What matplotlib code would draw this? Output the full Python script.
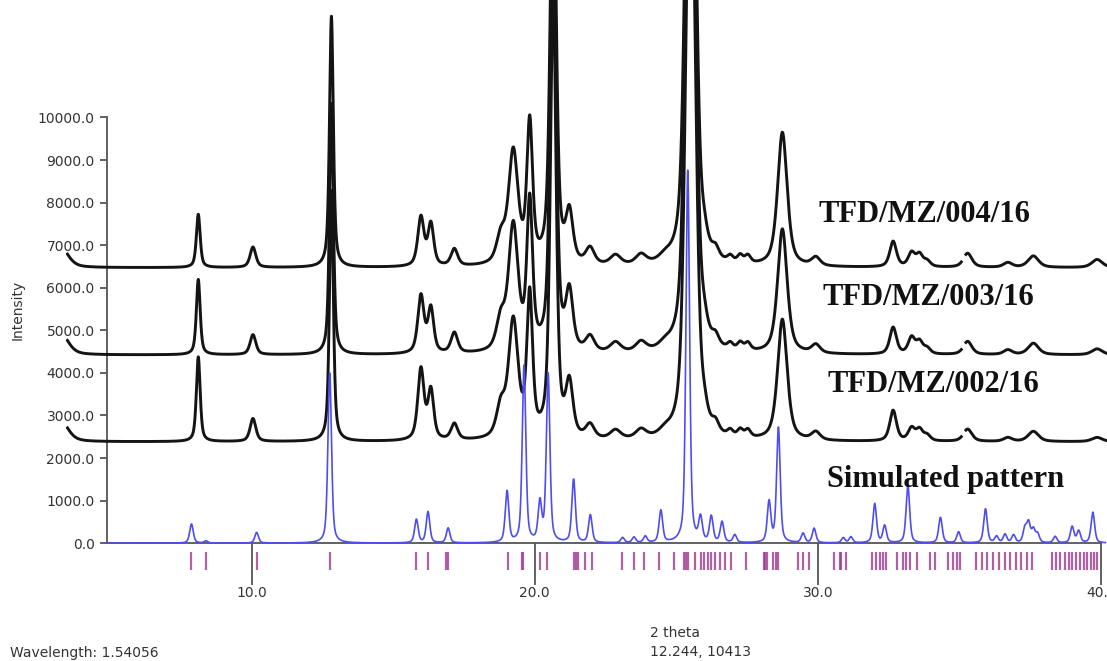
import numpy as np
import matplotlib.pyplot as plt

# --- peak tables for the three measured patterns (2theta, half width, height above baseline) ---
exp_pos = [3.30, 8.12, 10.05, 12.82, 15.98, 16.33, 17.16, 18.80, 19.24, 19.82, 20.65,
           21.22, 21.95, 22.85, 23.75, 24.60, 25.40, 25.60, 25.98, 26.38, 26.90, 27.25,
           27.52, 28.74, 29.92, 32.65, 33.30, 33.58, 33.85, 35.28, 36.70, 37.60, 39.85]
exp_hwhm = [0.30, 0.08, 0.12, 0.08, 0.13, 0.12, 0.14, 0.18, 0.20, 0.12, 0.12,
            0.15, 0.18, 0.22, 0.22, 0.25, 0.15, 0.15, 0.14, 0.14, 0.12, 0.12,
            0.12, 0.20, 0.18, 0.14, 0.14, 0.14, 0.14, 0.18, 0.18, 0.22, 0.22]
h_004 = [450, 1250, 480, 5900, 1150, 980, 400, 600, 2640, 3260, 10500,
         1150, 380, 230, 230, 120, 9000, 8800, 300, 220, 140, 180,
         180, 3150, 200, 600, 320, 280, 130, 330, 110, 270, 190]
h_003 = [480, 1770, 470, 5900, 1350, 1045, 480, 700, 2950, 3450, 10500,
         1340, 350, 230, 230, 120, 9000, 8800, 300, 220, 140, 180,
         180, 2930, 200, 630, 380, 280, 130, 310, 110, 270, 140]
h_002 = [460, 1990, 540, 5900, 1670, 1150, 380, 700, 2750, 3300, 10500,
         1230, 320, 210, 210, 120, 9000, 8800, 290, 220, 140, 180,
         180, 2850, 190, 720, 290, 260, 130, 290, 90, 240, 100]
base_004, base_003, base_002 = 6470, 4420, 2380
gap = (35.06, 35.22)   # missing stretch in the measured scans

# --- simulated pattern (blue) ---
sim_pos = [7.88, 8.39, 10.18, 12.76, 15.82, 16.23, 16.94, 19.02, 19.62, 20.18, 20.47,
           21.37, 21.96, 23.10, 23.50, 23.90, 24.45, 25.40, 25.85, 26.23, 26.61, 27.06,
           28.27, 28.60, 29.47, 29.86, 30.89, 31.16, 32.00, 32.35, 33.17, 34.32, 34.96,
           35.91, 36.30, 36.60, 36.90, 37.30, 37.43, 37.60, 37.75, 38.37, 38.97, 39.20, 39.70]
sim_h = [450, 50, 250, 4000, 550, 730, 350, 1200, 4150, 900, 3950,
         1480, 650, 120, 130, 150, 750, 8750, 550, 600, 480, 180,
         950, 2700, 220, 340, 120, 140, 920, 400, 1350, 600, 260,
         800, 150, 200, 180, 320, 450, 300, 200, 150, 380, 280, 720]

# --- reflection markers under the axis ---
refl = [7.88, 8.39, 10.18, 12.76, 15.82, 16.23, 16.88, 16.94, 19.05, 19.56, 19.60,
        20.20, 20.42, 21.40, 21.46, 21.52, 21.77, 22.02, 23.08, 23.49, 23.87, 24.38,
        24.90, 25.27, 25.33, 25.40, 25.65, 25.85, 25.97, 26.10, 26.22, 26.35, 26.55,
        26.72, 26.92, 27.44, 28.08, 28.14, 28.20, 28.42, 28.50, 28.58, 29.28, 29.47,
        29.67, 30.56, 30.78, 30.82, 31.00, 31.90, 32.05, 32.20, 32.30, 32.40, 32.78,
        33.00, 33.12, 33.24, 33.49, 33.95, 34.13, 34.58, 34.75, 34.90, 35.02, 35.57,
        35.78, 35.98, 36.18, 36.40, 36.60, 36.78, 36.98, 37.18, 37.38, 37.55, 38.25,
        38.40, 38.55, 38.70, 38.85, 38.98, 39.12, 39.25, 39.38, 39.50, 39.62, 39.75,
        39.85]

labels = ["TFD/MZ/004/16", "TFD/MZ/003/16", "TFD/MZ/002/16", "Simulated pattern"]
label_x = [30.00, 30.17, 30.35, 30.30]
label_y = [7540, 5590, 3550, 1315]


def pattern(x, pos, hw, hts, eta):
    """Sum of pseudo-Voigt peaks."""
    y = np.zeros_like(x)
    for c, w, h in zip(pos, hw, hts):
        u = ((x - c) / w) ** 2
        y += h * (eta / (1 + u) + (1 - eta) * np.exp(-np.log(2) * u))
    return y


fig = plt.figure(figsize=(11.07, 6.61), dpi=100)
ax = fig.add_axes([66 / 1107, 54 / 661, 1 - 66 / 1107, 1 - 54 / 661])
ax.set_xlim(3.45, 40.2)
ax.set_ylim(-1500, 12760)

# measured scans
xe = np.arange(3.5, 40.2, 0.004)
for hts, base in [(h_004, base_004), (h_003, base_003), (h_002, base_002)]:
    ye = base + pattern(xe, exp_pos, exp_hwhm, hts, 0.6)
    ye[(xe > gap[0]) & (xe < gap[1])] = np.nan
    ax.plot(xe, ye, color="#141414", lw=2.1, solid_joinstyle="round", zorder=2)

# simulated pattern on top
xs = np.arange(4.85, 40.15, 0.004)
ys = pattern(xs, sim_pos, [0.075] * len(sim_pos), sim_h, 0.5)
ax.plot(xs, ys, color="#4d4df0", lw=1.2, zorder=3)

# reflection ticks
ax.vlines(refl, -640, -215, color="#9b3a8e", lw=1.6, alpha=0.8, zorder=2)

# axes styling
for s in ["top", "right"]:
    ax.spines[s].set_visible(False)
ax.spines["left"].set_position(("data", 4.9))
ax.spines["left"].set_bounds(0, 10000)
ax.spines["bottom"].set_position(("data", 0))
ax.spines["bottom"].set_bounds(4.9, 40.0)
for s in ["left", "bottom"]:
    ax.spines[s].set_color("#555555")
    ax.spines[s].set_linewidth(1.3)
    ax.spines[s].set_zorder(1)

ax.set_yticks(np.arange(0, 10001, 1000))
ax.set_yticklabels([f"{v:.1f}" for v in np.arange(0, 10001, 1000)])
ax.set_xticks([10, 20, 30, 40])
ax.set_xticklabels(["10.0", "20.0", "30.0", "40.0"])
ax.tick_params(axis="y", length=5, width=1.3, color="#555555", labelsize=10,
               labelcolor="#333333", pad=4)
ax.tick_params(axis="x", length=30, width=1.3, color="#555555", labelsize=10,
               labelcolor="#333333", pad=1)

for txt, x, y in zip(labels, label_x, label_y):
    ax.text(x, y, txt, family="Liberation Serif", weight="bold", fontsize=22,
            color="#111111", va="baseline", ha="left", zorder=4)

fig.text(18 / 1107, 1 - 310 / 661, "Intensity", rotation=90, fontsize=10,
         color="#333333", ha="center", va="center")
fig.text(10 / 1107, 1 - 653 / 661, "Wavelength: 1.54056", fontsize=10,
         color="#333333", ha="left", va="center")
fig.text(650 / 1107, 1 - 633 / 661, "2 theta", fontsize=10,
         color="#333333", ha="left", va="center")
fig.text(650 / 1107, 1 - 652 / 661, "12.244, 10413", fontsize=10,
         color="#333333", ha="left", va="center")

fig.savefig("out.png", dpi=100)
